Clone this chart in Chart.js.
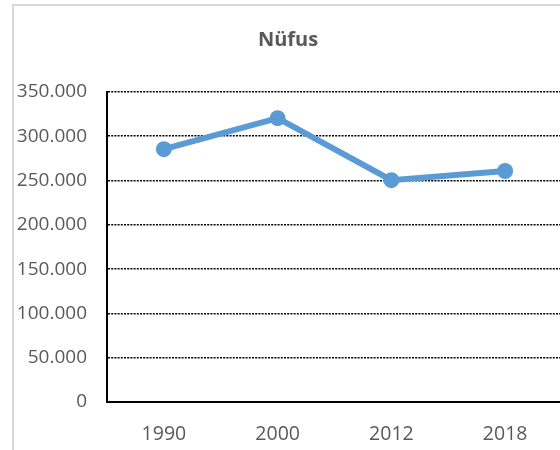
<!DOCTYPE html>
<html>
<head>
<meta charset="utf-8">
<script src="https://cdn.jsdelivr.net/npm/chart.js@4.4.1/dist/chart.umd.min.js"></script>
<style>
  html, body { margin: 0; padding: 0; background: #fff; overflow: hidden; width: 560px; height: 450px; }
  #frame { position: absolute; left: 12px; top: 4px; width: 600px; height: 500px; border: 2px solid #d9d9d9; box-sizing: border-box; }
  #wrap { position: absolute; left: 0; top: 0; width: 576px; height: 450px; }
</style>
</head>
<body>
<div id="frame"></div>
<div id="wrap"><canvas id="c" width="576" height="450"></canvas></div>
<script>
const categories = ['1990', '2000', '2012', '2018'];
const population = [285500, 320500, 250500, 260800];
const chartTitle = 'Nüfus';
const yMin = 0, yMax = 350000, yStep = 50000;

function fmt(v) {
  return String(Math.round(v)).replace(/\B(?=(\d{3})+(?!\d))/g, '.');
}

new Chart(document.getElementById('c'), {
  type: 'line',
  data: {
    labels: categories,
    datasets: [{
      label: chartTitle,
      data: population,
      borderColor: '#5b9bd5',
      backgroundColor: '#5b9bd5',
      borderWidth: 6,
      pointRadius: 8,
      pointHoverRadius: 8,
      pointBorderWidth: 0,
      tension: 0,
      fill: false
    }]
  },
  options: {
    responsive: false,
    animation: false,
    layout: { autoPadding: false, padding: 0 },
    plugins: {
      legend: { display: false },
      tooltip: { enabled: false },
      title: {
        display: true,
        text: chartTitle,
        color: '#595959',
        font: { family: 'Open Sans', size: 20, weight: 'bold' },
        padding: { top: 28, bottom: 40 }
      }
    },
    scales: {
      x: {
        offset: true,
        grid: { display: false, drawTicks: false },
        border: { display: true, color: '#000', width: 2 },
        ticks: {
          color: '#595959',
          font: { family: 'Open Sans', size: 19.5 },
          padding: 21,
          maxRotation: 0
        },
        afterFit: (s) => { s.height = 48; }
      },
      y: {
        min: yMin,
        max: yMax,
        grid: { color: '#000', lineWidth: 1.6, drawTicks: false },
        border: { display: true, color: '#000', width: 2, dash: [2, 1.2] },
        ticks: {
          stepSize: yStep,
          color: '#595959',
          font: { family: 'Open Sans', size: 19 },
          padding: 20,
          callback: (v) => fmt(v)
        },
        afterFit: (s) => { s.width = 107; }
      },
      yRight: {
        type: 'linear',
        position: 'right',
        display: true,
        min: yMin,
        max: yMax,
        grid: { display: false, drawTicks: false },
        border: { display: false },
        ticks: { display: false },
        afterFit: (s) => { s.width = 14; }
      }
    }
  }
});
</script>
</body>
</html>
